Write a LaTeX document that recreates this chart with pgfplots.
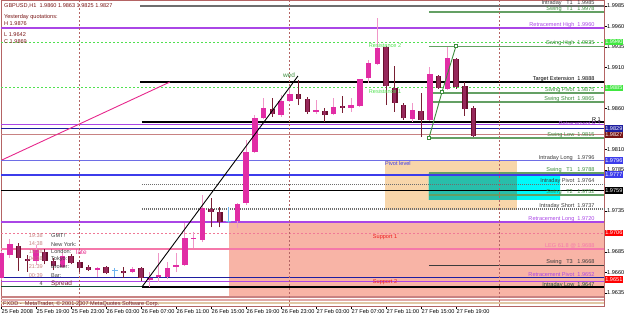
\documentclass[border=0pt]{standalone}
\usepackage{fontspec}
\setmainfont{Liberation Sans}
\usepackage{pgfplots}
\usepackage{pgfplotstable}
\pgfplotsset{compat=1.18}
\definecolor{frame}{RGB}{180,100,100}
\definecolor{bullc}{RGB}{225,45,165}
\definecolor{bullw}{RGB}{240,150,200}
\definecolor{bearc}{RGB}{105,15,45}
\definecolor{beari}{RGB}{150,40,90}
\definecolor{bearw}{RGB}{120,30,50}
\definecolor{dojic}{RGB}{110,180,240}
\definecolor{sgreen}{RGB}{100,160,100}
\definecolor{lgreen}{RGB}{80,225,80}
\definecolor{tgreen}{RGB}{60,140,60}
\definecolor{purp}{RGB}{170,70,230}
\definecolor{navyc}{RGB}{30,30,160}
\definecolor{rosy}{RGB}{200,130,130}
\definecolor{rosyl}{RGB}{225,170,170}
\definecolor{tanc}{RGB}{225,200,165}
\definecolor{blul}{RGB}{110,110,230}
\definecolor{bluc}{RGB}{60,60,235}
\definecolor{grayc}{RGB}{110,110,110}
\definecolor{dgray}{RGB}{60,60,60}
\definecolor{pinkc}{RGB}{245,120,170}
\definecolor{pinkd}{RGB}{240,120,150}
\definecolor{dkgreen}{RGB}{20,80,50}
\definecolor{salm}{RGB}{248,180,166}
\definecolor{orng}{RGB}{248,214,170}
\definecolor{cyanc}{RGB}{0,250,250}
\definecolor{tealc}{RGB}{40,190,170}
\definecolor{maroonc}{RGB}{120,20,20}
\definecolor{magc}{RGB}{230,40,140}
\definecolor{redc}{RGB}{240,30,30}
\newcommand\ft{\fontsize{5.6}{6.2}\selectfont}
\newcommand{\hl}[3]{\addplot[#3] coordinates {(#1,#2) (68.914,#2)};}
\pgfplotsset{candle/.style={only marks, mark=*, mark size=0pt, mark options={draw opacity=0, fill opacity=0}}}

\pgfplotstableread{
x o h l c
0 1.9653 1.9686 1.9651 1.9684
1 1.9681 1.9701 1.9678 1.9695
4 1.9674 1.9694 1.9669 1.9687
7 1.9667 1.9684 1.9666 1.9680
11 1.9663 1.9667 1.9655 1.9665
15 1.9661 1.9667 1.9659 1.9664
17 1.9651 1.9661 1.9642 1.9653
18 1.9655 1.9684 1.9648 1.9657
19 1.9655 1.9673 1.9652 1.9665
20 1.9667 1.9684 1.9661 1.9669
21 1.9669 1.9720 1.9668 1.9702
22 1.9701 1.9709 1.9690 1.9702
23 1.9700 1.9755 1.9697 1.9739
27 1.9723 1.9745 1.9714 1.9744
28 1.9745 1.9822 1.9742 1.9807
29 1.9807 1.9852 1.9806 1.9848
30 1.9848 1.9873 1.9847 1.9861
32 1.9852 1.9876 1.9850 1.9869
33 1.9869 1.9885 1.9868 1.9878
36 1.9856 1.9870 1.9853 1.9858
38 1.9853 1.9873 1.9852 1.9862
40 1.9861 1.9873 1.9856 1.9864
41 1.9863 1.9896 1.9862 1.9896
42 1.9897 1.9919 1.9891 1.9915
43 1.9914 1.9970 1.9913 1.9934
47 1.9847 1.9867 1.9844 1.9858
49 1.9846 1.9911 1.9845 1.9902
51 1.9884 1.9935 1.9883 1.9922
}\bull
\pgfplotstableread{
x o h l c
2 1.9692 1.9696 1.9662 1.9678
3 1.9676 1.9681 1.9661 1.9674
5 1.9685 1.9689 1.9670 1.9674
6 1.9674 1.9678 1.9663 1.9668
8 1.9680 1.9683 1.9670 1.9672
9 1.9673 1.9675 1.9661 1.9665
10 1.9667 1.9669 1.9662 1.9663
12 1.9667 1.9668 1.9658 1.9659
14 1.9662 1.9667 1.9653 1.9659
16 1.9665 1.9667 1.9650 1.9653
24 1.9737 1.9751 1.9715 1.9734
25 1.9734 1.9740 1.9715 1.9722
31 1.9859 1.9873 1.9850 1.9853
34 1.9878 1.9895 1.9864 1.9872
35 1.9872 1.9874 1.9853 1.9856
37 1.9857 1.9861 1.9844 1.9852
39 1.9863 1.9875 1.9855 1.9861
44 1.9935 1.9936 1.9864 1.9887
45 1.9885 1.9912 1.9856 1.9867
46 1.9864 1.9867 1.9846 1.9848
48 1.9857 1.9879 1.9825 1.9846
50 1.9900 1.9901 1.9884 1.9885
52 1.9920 1.9922 1.9884 1.9886
53 1.9887 1.9892 1.9851 1.9859
54 1.9860 1.9863 1.9825 1.9827
}\bear
\pgfplotstableread{
x o h l c
13 1.9662 1.9665 1.9655 1.9662
26 1.9722 1.9740 1.9720 1.9722
}\doji

\begin{document}
\begin{tikzpicture}
\useasboundingbox (0,0) rectangle (625bp,318bp);
\begin{axis}[
  at={(1bp,12bp)}, anchor=south west, scale only axis,
  width=603bp, height=306bp,
  xmin=0, xmax=68.914, ymin=1.96191, ymax=1.99923,
  clip=false,
  axis line style={draw=frame, line width=0.8bp},
  xtick={0,4,...,52},
  xticklabels={25 Feb 2008,25 Feb 19:00,25 Feb 23:00,26 Feb 03:00,26 Feb 07:00,26 Feb 11:00,26 Feb 15:00,26 Feb 19:00,26 Feb 23:00,27 Feb 03:00,27 Feb 07:00,27 Feb 11:00,27 Feb 15:00,27 Feb 19:00},
  xtick pos=left, ytick pos=right, yticklabel pos=right,
  tick align=outside, major tick length=2.5bp,
  tick style={draw=black, line width=0.5bp},
  xticklabel style={font=\ft, anchor=north west, inner sep=0.5bp, yshift=-0.5bp},
  ytick={1.9635,1.9660,1.9685,1.9735,1.9785,1.9810,1.9860,1.9910,1.9935,1.9960,1.9985},
  scaled y ticks=false,
  yticklabel style={font=\ft, anchor=west, inner sep=0.5bp, /pgf/number format/.cd, fixed, fixed zerofill, precision=4},
  /pgf/number format/assume math mode=true,
]
% zones
\addplot[fill=salm, draw=none] coordinates {(26.06,1.97216) (68.914,1.97216) (68.914,1.96313) (26.06,1.96313) (26.06,1.97216)};
\addplot[fill=orng, draw=none] coordinates {(43.89,1.97960) (58.97,1.97960) (58.97,1.97362) (43.89,1.97362) (43.89,1.97960)};
\addplot[fill=cyanc, draw=none] coordinates {(48.91,1.97813) (63.89,1.97813) (63.89,1.97484) (48.91,1.97484) (48.91,1.97813)};
\addplot[fill=tealc, draw=none] coordinates {(48.91,1.97813) (58.97,1.97813) (58.97,1.97484) (48.91,1.97484) (48.91,1.97813)};
% horizontal levels
\hl{15.89}{1.99850}{draw=grayc, line width=2bp}
\hl{48.91}{1.99777}{draw=sgreen, line width=1.5bp}
\hl{0}{1.99582}{draw=purp, line width=1.2bp}
\hl{0}{1.99405}{draw=lgreen, line width=0.8bp, dash pattern=on 2bp off 2bp}
\hl{48.91}{1.99356}{draw=sgreen, line width=1.5bp}
\hl{15.89}{1.98923}{draw=black, line width=1.5bp}
\hl{0}{1.98856}{draw=lgreen, line width=0.8bp, dash pattern=on 2bp off 2bp}
\hl{48.91}{1.98789}{draw=sgreen, line width=1.5bp}
\hl{48.91}{1.98679}{draw=sgreen, line width=1.5bp}
\hl{16.11}{1.98435}{draw=black, line width=1.2bp}
\hl{0}{1.98399}{draw=purp, line width=1bp}
\hl{0}{1.98350}{draw=navyc, line width=1bp}
\hl{0}{1.98277}{draw=rosy, line width=1bp}
\hl{48.91}{1.98240}{draw=sgreen, line width=1.5bp}
\hl{0}{1.97963}{draw=blul, line width=1.5bp}
\hl{48.91}{1.97813}{draw=sgreen, line width=1.5bp}
\hl{0}{1.97789}{draw=bluc, line width=1.2bp}
\hl{16.11}{1.97673}{draw=grayc, line width=1.5bp, dash pattern=on 1bp off 1bp}
\hl{0}{1.97600}{draw=black, line width=1bp}
\hl{48.91}{1.97545}{draw=sgreen, line width=1.5bp}
\hl{16.11}{1.97374}{draw=grayc, line width=1.5bp, dash pattern=on 1bp off 1bp}
\hl{0}{1.97216}{draw=purp, line width=1.2bp}
\hl{0}{1.97082}{draw=pinkd, line width=0.8bp, dash pattern=on 2bp off 2bp}
\hl{0}{1.96887}{draw=pinkc, line width=1.2bp}
\hl{48.91}{1.96685}{draw=dgray, line width=1.2bp}
\hl{0}{1.96533}{draw=navyc, line width=1bp}
\hl{0}{1.96490}{draw=purp, line width=1bp}
\hl{0}{1.96429}{draw=dkgreen, line width=1bp}
\hl{16.11}{1.96423}{draw=black, line width=1.2bp}
\hl{0}{1.96301}{draw=rosy, line width=1.2bp}
\hl{0}{1.96265}{draw=rosyl, line width=2bp}
\hl{0}{1.96222}{draw=tanc, line width=2bp}
% day separators
\addplot[draw=frame, line width=0.6bp, dash pattern=on 2bp off 2bp] coordinates {(9,1.96191) (9,1.99923)};
\addplot[draw=frame, line width=0.6bp, dash pattern=on 2bp off 2bp] coordinates {(33,1.96191) (33,1.99923)};
\addplot[draw=frame, line width=0.6bp, dash pattern=on 2bp off 2bp] coordinates {(57,1.96191) (57,1.99923)};
% candles: wicks
\addplot[candle, error bars/.cd, y dir=plus, y explicit, error mark=none, error bar style={draw=bullw, line width=0.9bp}] table[x=x, y=l, y error plus expr={\thisrow{h}-\thisrow{l}}] {\bull};
\addplot[candle, error bars/.cd, y dir=plus, y explicit, error mark=none, error bar style={draw=bearw, line width=0.9bp}] table[x=x, y=l, y error plus expr={\thisrow{h}-\thisrow{l}}] {\bear};
\addplot[candle, error bars/.cd, y dir=plus, y explicit, error mark=none, error bar style={draw=dojic, line width=0.9bp}] table[x=x, y=l, y error plus expr={\thisrow{h}-\thisrow{l}}] {\doji};
\addplot[only marks, mark=-, mark size=2.75bp, mark options={draw=dojic, line width=0.9bp}] table[x=x, y=o] {\doji};
% candles: bodies
\addplot[candle, error bars/.cd, y dir=plus, y explicit, error mark=none, error bar style={draw=bullc, line width=5.5bp, line cap=butt}] table[x=x, y=o, y error plus expr={\thisrow{c}-\thisrow{o}}] {\bull};
\addplot[candle, error bars/.cd, y dir=plus, y explicit, error mark=none, error bar style={draw=bearc, line width=5.5bp, line cap=butt}] table[x=x, y=c, y error plus expr={\thisrow{o}-\thisrow{c}}] {\bear};
\addplot[candle, error bars/.cd, y dir=plus, y explicit, error mark=none, error bar style={draw=beari, line width=3.3bp, line cap=butt}] table[x=x, y=c, y error plus expr={\thisrow{o}-\thisrow{c}}] {\bear};
% trend lines
\addplot[draw=magc, line width=0.9bp] coordinates {(0.11,1.97972) (19.31,1.98923)};
\addplot[draw=black, line width=0.9bp] coordinates {(16.11,1.96423) (33.94,1.98996)};
\addplot[draw=tgreen, line width=0.9bp, mark=square*, mark size=1.1bp, mark options={fill=white, draw=tgreen}] coordinates {(48.91,1.98240) (50.40,1.98801) (52.0,1.99362)};
% price boxes
\begin{scope}[every node/.style={font=\ft, anchor=west, inner sep=0.8bp, minimum height=6.5bp, text=white}]
\node[fill=lgreen!80!green] at (axis cs:68.95,1.99411) {1.9940};
\node[fill=lgreen!80!green] at (axis cs:68.95,1.98850) {1.9885};
\node[fill=navyc] at (axis cs:68.95,1.98356) {1.9829};
\node[fill=maroonc] at (axis cs:68.95,1.98277) {1.9827};
\node[fill=bluc] at (axis cs:68.95,1.97963) {1.9796};
\node[fill=bluc] at (axis cs:68.95,1.97795) {1.9777};
\node[fill=black] at (axis cs:68.95,1.97600) {1.9759};
\node[fill=red] at (axis cs:68.95,1.97082) {1.9706};
\node[fill=red] at (axis cs:68.95,1.96515) {1.9651};
\end{scope}
% level labels
\begin{scope}[every node/.style={font=\ft, anchor=south east, inner sep=0.3bp}]
\node[text=dgray] at (axis cs:67.89,1.99850) {Intraday\ \ \ T1\ \ \ 1.9985};
\node[text=tgreen] at (axis cs:67.89,1.99777) {Swing\ \ \ T1\ \ \ 1.9978};
\node[text=purp] at (axis cs:67.89,1.99582) {Retracement High\ \ 1.9960};
\node[text=tgreen] at (axis cs:67.89,1.99356) {Swing High\ \ 1.9935};
\node[text=black] at (axis cs:67.89,1.98923) {Target Extension\ \ 1.9888};
\node[text=tgreen] at (axis cs:67.89,1.98789) {Swing Pivot\ \ 1.9875};
\node[text=tgreen] at (axis cs:67.89,1.98679) {Swing Short\ \ 1.9865};
\node[text=black] at (axis cs:68.6,1.98435) {R 1};
\node[text=purp] at (axis cs:68.6,1.98380) {Retracement R 1};
\node[text=tgreen] at (axis cs:67.89,1.98240) {Swing Low\ \ 1.9815};
\node[text=dgray] at (axis cs:67.89,1.97963) {Intraday Long\ \ \ 1.9796};
\node[text=tgreen] at (axis cs:67.89,1.97813) {Swing\ \ \ T1\ \ \ 1.9788};
\node[text=dgray] at (axis cs:67.89,1.97673) {Intraday Pivot\ \ 1.9764};
\node[text=tgreen] at (axis cs:67.89,1.97545) {Swing\ \ \ T2\ \ \ 1.9752};
\node[text=dgray] at (axis cs:67.89,1.97374) {Intraday Short\ \ 1.9737};
\node[text=purp] at (axis cs:67.89,1.97216) {Retracement Long\ \ 1.9720};
\node[text=pinkc] at (axis cs:67.89,1.96887) {LEG 61.8 @ 1.9688};
\node[text=dgray] at (axis cs:67.89,1.96685) {Swing\ \ \ T3\ \ \ 1.9668};
\node[text=purp] at (axis cs:67.89,1.96545) {Retracement Pivot\ \ 1.9652};
\node[text=dkgreen, anchor=north east] at (axis cs:67.89,1.96482) {Intraday Low\ \ 1.9647};
\end{scope}
% zone and object labels
\node[font=\ft, text=lgreen] at (axis cs:43.89,1.99362) {Resistance 2};
\node[font=\ft, text=lgreen] at (axis cs:43.89,1.98813) {Resistance 1};
\node[font=\fontsize{6.5}{7}\selectfont, text=tgreen] at (axis cs:32.91,1.99000) {wed};
\node[font=\ft, text=bluc, anchor=west, inner sep=0pt] at (axis cs:43.89,1.97923) {Pivot level};
\node[font=\ft, text=redc] at (axis cs:43.89,1.97033) {Support 1};
\node[font=\ft, text=redc] at (axis cs:43.89,1.96484) {Support 2};
% info top left
\begin{scope}[every node/.style={font=\ft, anchor=west, inner sep=0pt, text=maroonc}]
\node at (axis cs:0.34,1.99850) {GBPUSD,H1\ \ 1.9860 1.9863 1.9825 1.9827};
\node at (axis cs:0.34,1.99716) {Yesterday quotations:};
\node at (axis cs:0.34,1.99630) {H 1.9876};
\node at (axis cs:0.34,1.99496) {L 1.9642};
\node at (axis cs:0.34,1.99417) {C 1.9869};
\end{scope}
% clock block
\begin{scope}[every node/.style={font=\ft, inner sep=0pt}]
\node[anchor=east, text=rosy] at (axis cs:4.8,1.97045) {19:38};
\node[anchor=east, text=rosy] at (axis cs:4.8,1.96947) {14:38};
\node[anchor=east, text=rosy] at (axis cs:4.8,1.96850) {19:38};
\node[anchor=east, text=rosy] at (axis cs:4.8,1.96765) {04:38};
\node[anchor=east, text=rosy] at (axis cs:4.8,1.96667) {21:39};
\node[anchor=east, text=rosy] at (axis cs:4.8,1.96557) {00:39};
\node[anchor=east, text=dgray] at (axis cs:4.8,1.96460) {4};
\node[anchor=west, text=dgray] at (axis cs:5.71,1.97045) {GMT!};
\node[anchor=west, text=dgray] at (axis cs:5.71,1.96947) {New York:};
\node[anchor=west, text=dgray] at (axis cs:5.71,1.96850) {London:};
\node[anchor=west, text=dgray] at (axis cs:5.71,1.96765) {Tokyo:};
\node[anchor=west, text=dgray] at (axis cs:5.71,1.96667) {Broker:};
\node[anchor=west, text=dgray] at (axis cs:5.71,1.96557) {Bar:};
\node[anchor=west, text=bearw, font=\fontsize{6.5}{7}\selectfont] at (axis cs:5.71,1.96460) {Spread};
\node[anchor=west, text=magc, font=\fontsize{6.5}{7}\selectfont] at (axis cs:8.57,1.96850) {late};
\end{scope}
\node[font=\ft, anchor=west, inner sep=0pt, text=bearw] at (axis cs:0.23,1.96216) {FXDD\ -\ \ MetaTrader,\ © 2001-2007 MetaQuotes Software Corp.};
\end{axis}
\end{tikzpicture}
\end{document}
